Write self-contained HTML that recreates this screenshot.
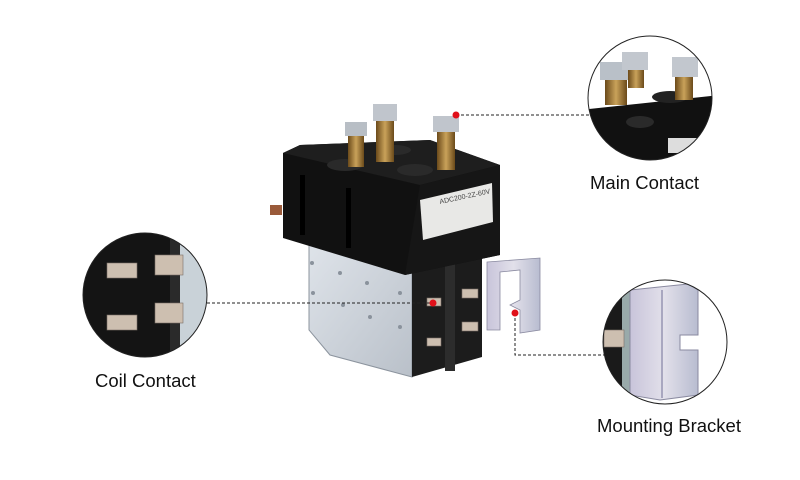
<!DOCTYPE html>
<html><head><meta charset="utf-8"><style>
html,body{margin:0;padding:0;background:#fff;}
svg{display:block}
text{font-family:"Liberation Sans",Arial,sans-serif;font-size:18.5px;fill:#111}
</style></head><body>
<svg width="800" height="480" viewBox="0 0 800 480" xmlns="http://www.w3.org/2000/svg">
<defs>
<linearGradient id="met" x1="0" x2="1" y1="0" y2="1"><stop offset="0" stop-color="#dfe4ea"/><stop offset="1" stop-color="#b9c0c9"/></linearGradient>
<linearGradient id="brk" x1="0" x2="1"><stop offset="0" stop-color="#c8c4da"/><stop offset="0.5" stop-color="#e2e0ea"/><stop offset="1" stop-color="#b8bcd0"/></linearGradient>
<linearGradient id="brass" x1="0" x2="1"><stop offset="0" stop-color="#6b4a1a"/><stop offset="0.5" stop-color="#c9a25a"/><stop offset="1" stop-color="#6b4a1a"/></linearGradient>
<clipPath id="c1"><circle cx="650" cy="98" r="62"/></clipPath>
<clipPath id="c2"><circle cx="145" cy="295" r="62"/></clipPath>
<clipPath id="c3"><circle cx="665" cy="342" r="62"/></clipPath>
</defs>

<polygon points="309,240 412,262 412,377 330,355 309,330" fill="url(#met)" stroke="#8c949e" stroke-width="1"/>
<g fill="#8a929c"><circle cx="312" cy="263" r="2"/><circle cx="340" cy="273" r="2"/><circle cx="367" cy="283" r="2"/><circle cx="313" cy="293" r="2"/><circle cx="343" cy="305" r="2"/><circle cx="370" cy="317" r="2"/><circle cx="400" cy="293" r="2"/><circle cx="400" cy="327" r="2"/></g>
<polygon points="412,258 482,255 482,357 412,377" fill="#1c1c1c"/>
<rect x="445" y="256" width="10" height="115" fill="#2c2c2c"/>
<g fill="#cdbfb0" stroke="#7a6f66" stroke-width="0.6">
<rect x="427" y="298" width="14" height="8"/><rect x="462" y="289" width="16" height="9"/><rect x="462" y="322" width="16" height="9"/><rect x="427" y="338" width="14" height="8"/></g>
<polygon points="487,262 540,258 540,330 520,333 520,310 510,305 520,300 520,270 500,272 500,330 487,330" fill="url(#brk)" stroke="#8a8aa0" stroke-width="0.8"/>
<polygon points="283,153 300,145 430,140 500,165 500,255 405,275 283,238" fill="#111"/>
<polygon points="283,153 300,145 430,140 500,165 420,185" fill="#1e1e1e"/>
<polygon points="420,185 500,165 500,255 405,275" fill="#161616"/>
<rect x="300" y="175" width="5" height="60" fill="#000"/>
<rect x="346" y="188" width="5" height="60" fill="#000"/>
<rect x="270" y="205" width="12" height="10" fill="#9a5a3a"/>
<polygon points="420,200 492,183 493,222 423,240" fill="#e8e8e6"/>
<text x="440" y="204" style="font-size:7px;fill:#444" transform="rotate(-12 440 204)">ADC200-2Z-60V</text>
<g>
<ellipse cx="345" cy="165" rx="18" ry="6" fill="#2a2a2a"/>
<ellipse cx="415" cy="170" rx="18" ry="6" fill="#2a2a2a"/>
<ellipse cx="395" cy="150" rx="16" ry="5" fill="#2a2a2a"/>
<rect x="348" y="135" width="16" height="32" fill="url(#brass)"/>
<rect x="345" y="122" width="22" height="14" fill="#b8bec5"/>
<rect x="376" y="120" width="18" height="42" fill="url(#brass)"/>
<rect x="373" y="104" width="24" height="17" fill="#c0c5cc"/>
<rect x="437" y="130" width="18" height="40" fill="url(#brass)"/>
<rect x="433" y="116" width="26" height="16" fill="#c0c5cc"/>
</g>

<g stroke="#222" stroke-width="1" stroke-dasharray="3,2" fill="none">
<line x1="456" y1="115" x2="590" y2="115"/>
<line x1="207" y1="303" x2="433" y2="303"/>
<polyline points="515,313 515,355 604,355"/>
</g>
<g fill="#e0101a"><circle cx="456" cy="115" r="3.5"/><circle cx="433" cy="303" r="3.5"/><circle cx="515" cy="313" r="3.5"/></g>

<g clip-path="url(#c1)">
<rect x="588" y="36" width="124" height="124" fill="#fff"/>
<polygon points="580,110 720,95 720,165 580,165" fill="#111"/>
<rect x="668" y="138" width="30" height="15" fill="#ddd"/>
<ellipse cx="670" cy="97" rx="18" ry="6" fill="#222"/>
<rect x="605" y="80" width="22" height="25" fill="url(#brass)"/>
<rect x="600" y="62" width="28" height="18" fill="#b9c0c8"/>
<rect x="628" y="70" width="16" height="18" fill="url(#brass)"/>
<rect x="622" y="52" width="26" height="18" fill="#c2c7ce"/>
<rect x="675" y="76" width="18" height="24" fill="url(#brass)"/>
<rect x="672" y="57" width="26" height="20" fill="#c2c7ce"/>
<ellipse cx="640" cy="122" rx="14" ry="6" fill="#2a2a2a"/>
</g>
<circle cx="650" cy="98" r="62" fill="none" stroke="#222" stroke-width="1"/>

<g clip-path="url(#c2)">
<rect x="83" y="233" width="124" height="124" fill="#141414"/>
<rect x="178" y="233" width="30" height="124" fill="#c9d2d8"/>
<rect x="170" y="233" width="10" height="124" fill="#2a2a2a"/>
<g fill="#cdbfb0" stroke="#7a6f66" stroke-width="0.6">
<rect x="107" y="263" width="30" height="15"/><rect x="155" y="255" width="28" height="20"/>
<rect x="155" y="303" width="28" height="20"/><rect x="107" y="315" width="30" height="15"/></g>
</g>
<circle cx="145" cy="295" r="62" fill="none" stroke="#222" stroke-width="1"/>

<g clip-path="url(#c3)">
<rect x="603" y="280" width="124" height="124" fill="#fff"/>
<rect x="600" y="280" width="22" height="124" fill="#1a1a1a"/>
<rect x="622" y="280" width="8" height="124" fill="#9aa"/>
<polygon points="630,290 688,284 698,290 698,335 680,335 680,350 698,350 698,395 660,400 630,395" fill="url(#brk)" stroke="#8a8aa0" stroke-width="1"/>
<line x1="662" y1="290" x2="662" y2="398" stroke="#a9a7c0" stroke-width="2"/>
<rect x="604" y="330" width="20" height="17" fill="#cdbfb0" stroke="#7a6f66" stroke-width="0.6"/>
</g>
<circle cx="665" cy="342" r="62" fill="none" stroke="#222" stroke-width="1"/>

<text x="590" y="189">Main Contact</text>
<text x="95" y="387">Coil Contact</text>
<text x="597" y="432">Mounting Bracket</text>
</svg>
</body></html>
